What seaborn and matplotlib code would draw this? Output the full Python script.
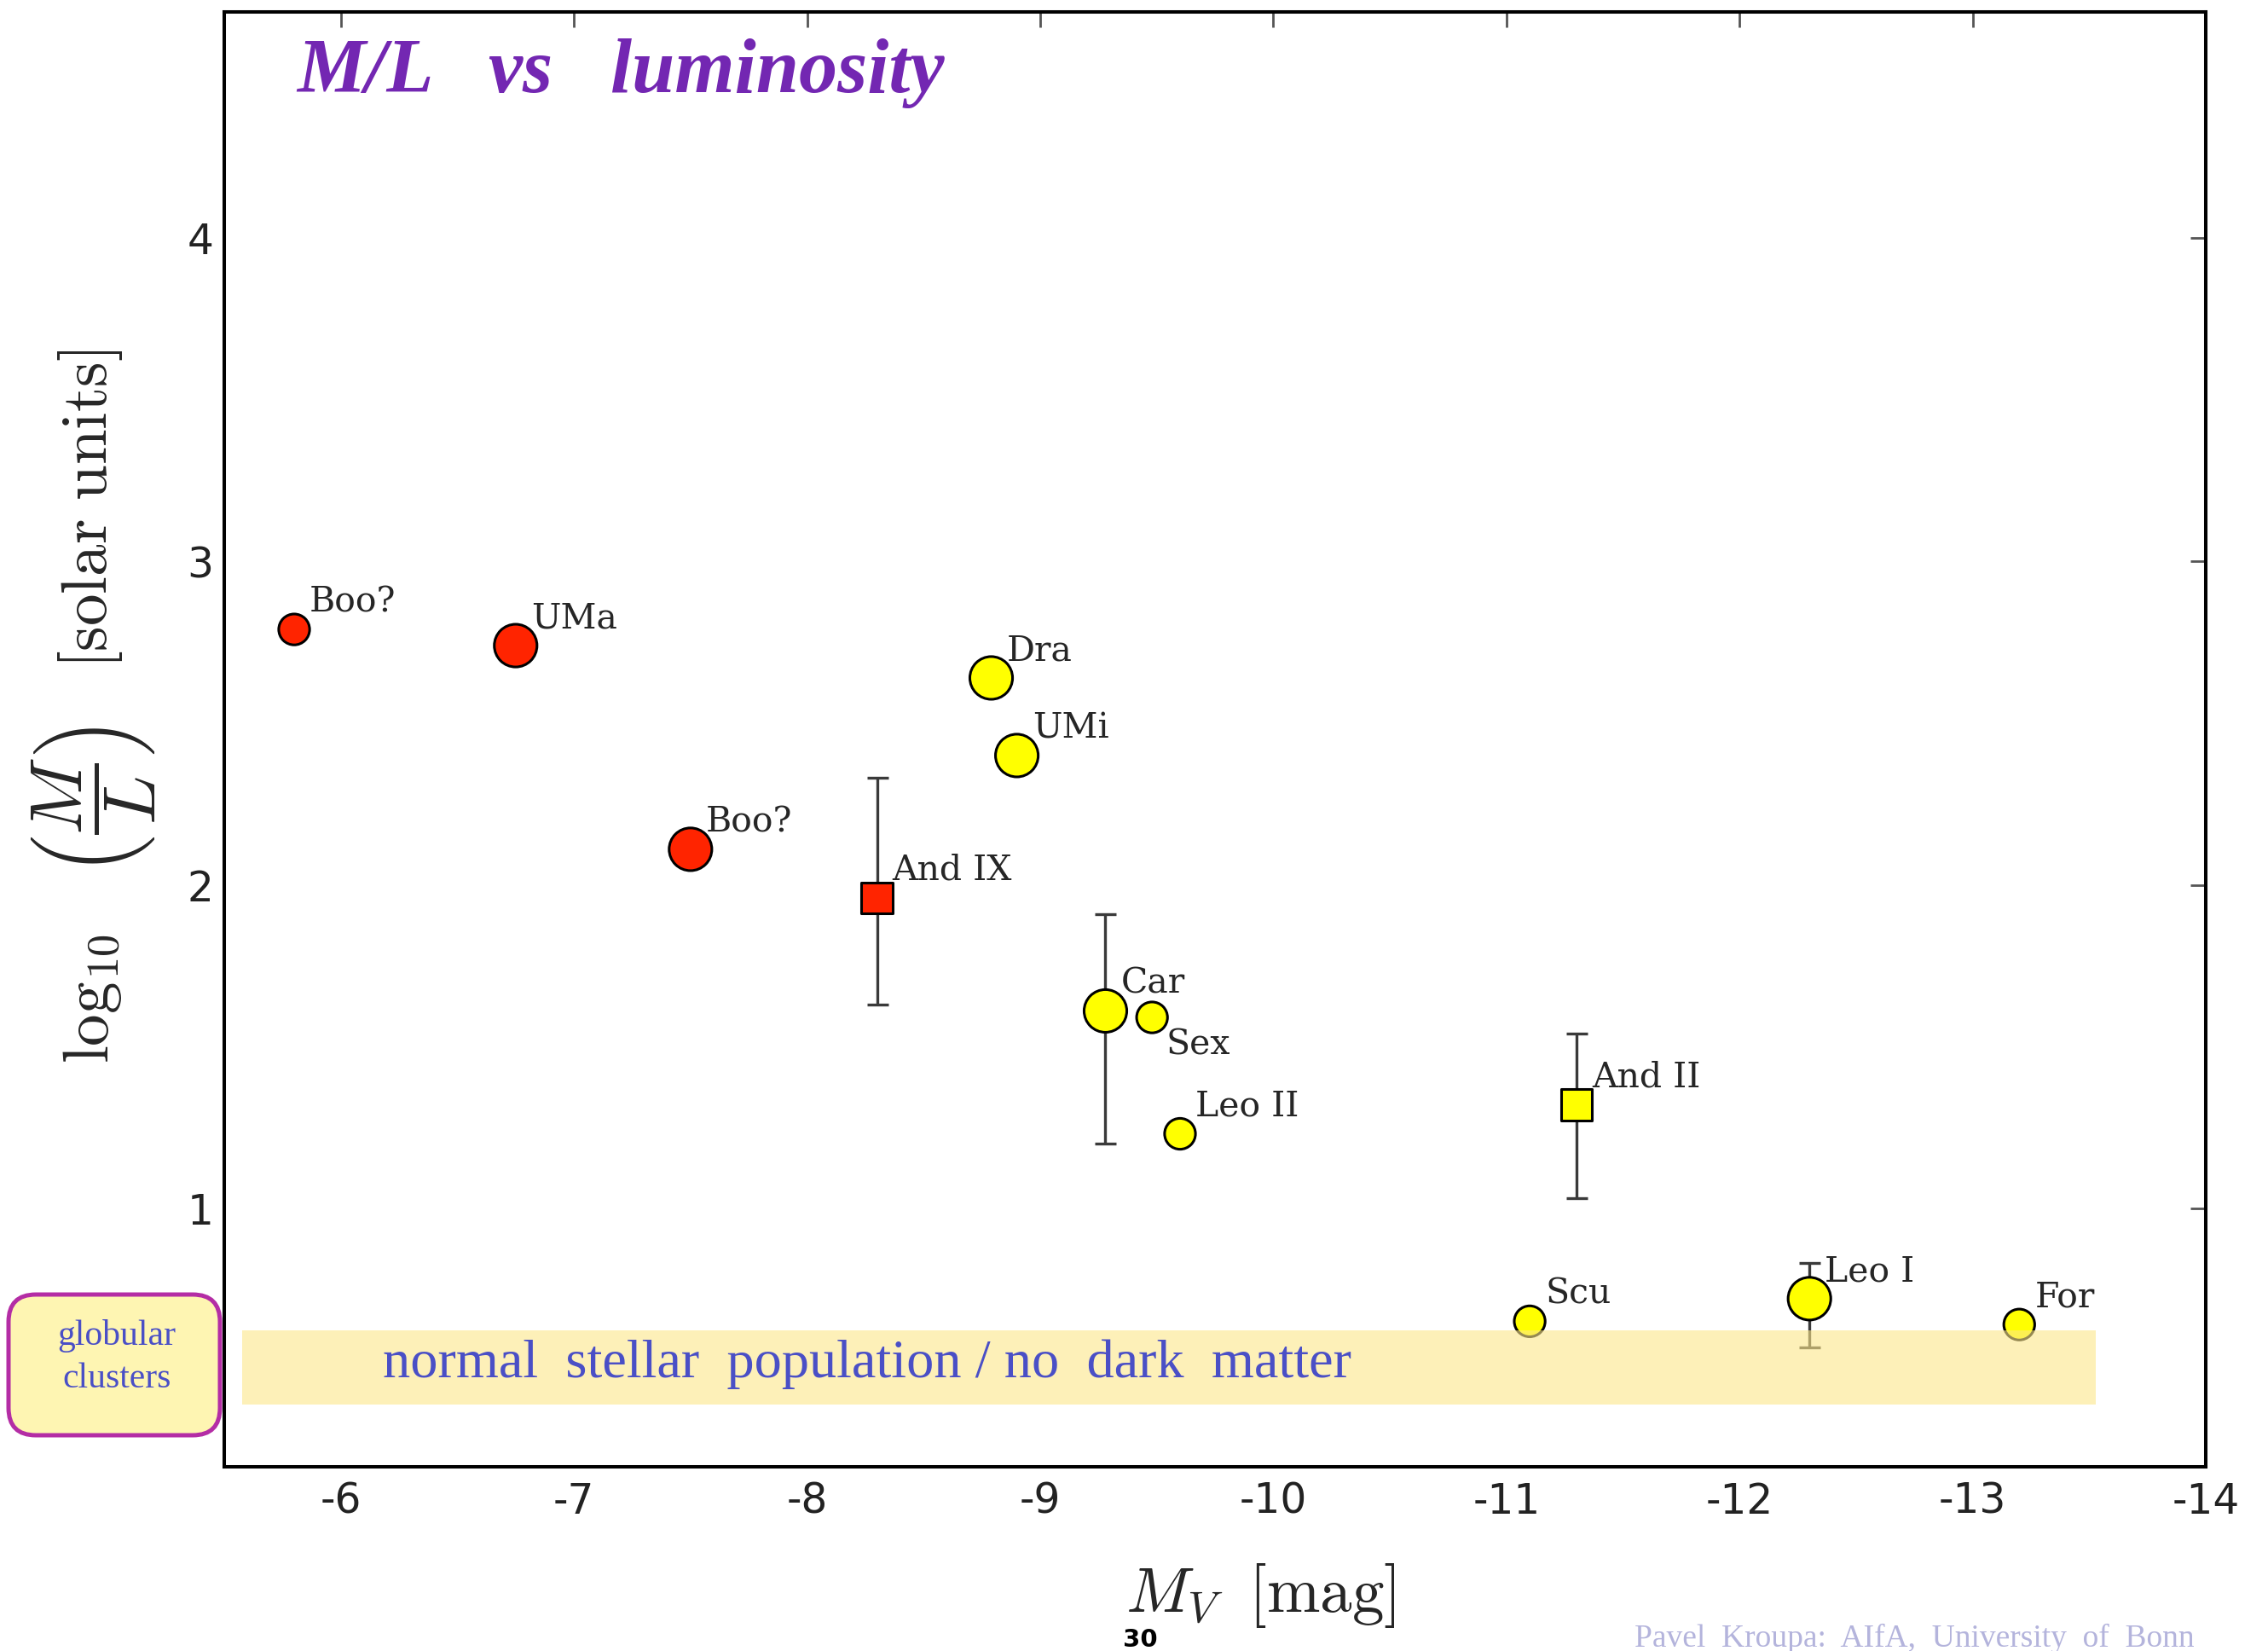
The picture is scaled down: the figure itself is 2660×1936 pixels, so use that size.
import numpy as np
import pandas as pd
import matplotlib
matplotlib.use("Agg")
import matplotlib.pyplot as plt
import seaborn as sns
from matplotlib.patches import FancyBboxPatch, Rectangle

# ---------------- data ----------------
names = ["Boo?", "UMa", "Boo?", "And IX", "Dra", "UMi", "Car", "Sex",
         "Leo II", "And II", "Scu", "Leo I", "For"]
mv = [-5.80, -6.75, -7.50, -8.30, -8.79, -8.90, -9.28, -9.48,
      -9.60, -11.30, -11.10, -12.30, -13.20]
log_ml = [2.79, 2.74, 2.11, 1.96, 2.64, 2.40, 1.61, 1.59,
          1.23, 1.32, 0.65, 0.72, 0.64]
err_low = [0, 0, 0, 0.33, 0, 0, 0.41, 0, 0, 0.29, 0, 0.15, 0]
err_high = [0, 0, 0, 0.37, 0, 0, 0.30, 0, 0, 0.22, 0, 0.11, 0]
population = ["red", "red", "red", "red", "yellow", "yellow", "yellow", "yellow",
              "yellow", "yellow", "yellow", "yellow", "yellow"]
size_class = ["small", "large", "large", "small", "large", "large", "large", "small",
              "small", "small", "small", "large", "small"]
shape = ["circle", "circle", "circle", "square", "circle", "circle", "circle", "circle",
         "circle", "square", "circle", "circle", "circle"]

x_ticks = [-6, -7, -8, -9, -10, -11, -12, -13, -14]
y_ticks = [1, 2, 3, 4]

df = pd.DataFrame({"name": names, "mv": mv, "log_ml": log_ml,
                   "lo": err_low, "hi": err_high, "pop": population,
                   "size": size_class, "shape": shape})

# ---------------- style ----------------
sns.set_style("white")
plt.rcParams["font.family"] = ["DejaVu Sans"]
plt.rcParams["mathtext.fontset"] = "cm"

W, H = 2660, 1936
fig = plt.figure(figsize=(W / 100, H / 100), dpi=100)
ax = fig.add_axes([263 / W, 1 - 1720 / H, (2587 - 263) / W, (1720 - 14) / H])

# error bars
eb = df[(df["lo"] > 0) | (df["hi"] > 0)]
ax.errorbar(eb["mv"], eb["log_ml"], yerr=[eb["lo"], eb["hi"]], fmt="none",
            ecolor="#3a3a3a", elinewidth=2.4, capsize=9, capthick=2.4, zorder=2)

# markers
sns.scatterplot(data=df, x="mv", y="log_ml", hue="pop",
                palette={"red": "#FF2400", "yellow": "#FFFF00"},
                size="size", sizes={"small": 680, "large": 1300},
                style="shape", markers={"circle": "o", "square": "s"},
                edgecolor="black", linewidth=2.2, legend=False, zorder=3, ax=ax)

# point labels
for n, xv, yv in zip(names, mv, log_ml):
    if n == "Sex":
        ax.annotate(n, (xv, yv), xytext=(12, -9), textcoords="offset points",
                    va="top", ha="left", fontsize=29.5, family="DejaVu Serif", zorder=6)
    else:
        ax.annotate(n, (xv, yv), xytext=(13, 15), textcoords="offset points",
                    va="baseline", ha="left", fontsize=29.5, family="DejaVu Serif", zorder=6)

# "normal stellar population" band
ax.add_patch(Rectangle((-13.53, 0.393), 13.53 - 5.577, 0.622 - 0.393,
                       facecolor="#FCE689", alpha=0.6, edgecolor="none", zorder=4))
ax.text(-6.18, 0.478, "normal  stellar  population / no  dark  matter",
        family="Liberation Serif", fontsize=46.3, color="#4A4FC6",
        ha="left", va="baseline", zorder=6)

# axes
ax.set_xlim(-5.5, -14)
ax.set_ylim(0.2, 4.7)
ax.set_xticks(x_ticks)
ax.set_xticklabels([str(t) for t in x_ticks])
ax.set_yticks(y_ticks)
ax.set_yticklabels([str(t) for t in y_ticks])
ax.tick_params(axis="both", which="major", direction="in", length=13, width=2,
               color="#555555", labelsize=35, labelcolor="#222222",
               top=True, right=True, pad=9)
ax.tick_params(axis="x", pad=12)
for sp in ax.spines.values():
    sp.set_visible(True)
    sp.set_color("black")
    sp.set_linewidth(2.9)

ax.set_xlabel(r"$M_V\;\;[\mathrm{mag}]$", fontsize=54, va="center")
ax.xaxis.set_label_coords(0.523, -0.0885)

# y label, composed of three pieces (display-size fraction)
ax.set_ylabel("")
ylab_kw = dict(rotation=90, rotation_mode="anchor", ha="center")
fig.text(127 / W, 1 - 1171 / H, r"$\log_{10}$", fontsize=54, va="baseline", **ylab_kw)
fig.text(109 / W, 1 - 939 / H, r"$\left(\dfrac{M}{L}\right)$", fontsize=61,
         va="center", **ylab_kw)
fig.text(125 / W, 1 - 597 / H, r"$[\mathrm{solar\ units}]$", fontsize=54,
         va="baseline", **ylab_kw)

# title
fig.text(348 / W, 1 - 108 / H, "M/L   vs   luminosity", family="Liberation Serif",
         fontweight="bold", fontstyle="italic", fontsize=65, color="#7327B2",
         ha="left", va="baseline")

# globular clusters box
box = FancyBboxPatch((0.10, 2.53), 2.48, 1.65,
                     boxstyle="round,pad=0,rounding_size=0.32",
                     facecolor="#FEF5B2", edgecolor="#B42DA5", linewidth=3.6,
                     transform=fig.dpi_scale_trans)
fig.add_artist(box)
fig.text(1.37, (H - 1577) / 100, "globular", transform=fig.dpi_scale_trans,
         family="Liberation Serif", fontsize=30, color="#4A4FC6",
         ha="center", va="baseline")
fig.text(1.37, (H - 1627) / 100, "clusters", transform=fig.dpi_scale_trans,
         family="Liberation Serif", fontsize=30, color="#4A4FC6",
         ha="center", va="baseline")

# footer
fig.text(1917 / W, 1 - 1904 / H, "Pavel  Kroupa:  AIfA,  University  of  Bonn",
         family="Liberation Serif", fontsize=27, color="#B4B4DC",
         ha="left", va="top")
fig.text(1337 / W, 5 / H, "30", fontsize=21, fontweight="bold", color="black",
         ha="center", va="baseline")

fig.savefig("out.png", dpi=100)
